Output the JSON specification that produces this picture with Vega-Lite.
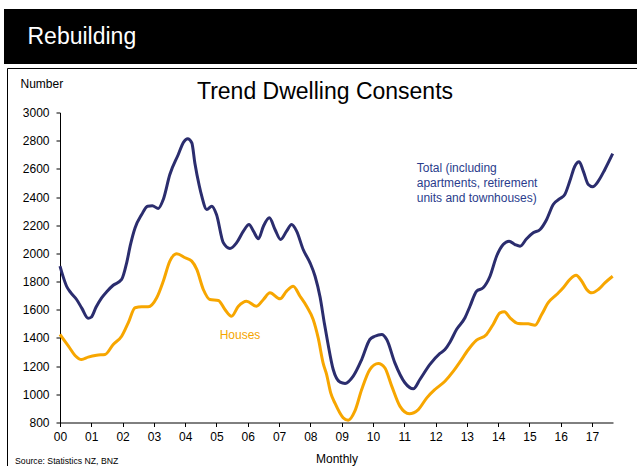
{
  "$schema": "https://vega.github.io/schema/vega-lite/v6.json",
  "width": 553,
  "height": 310,
  "autosize": {"type": "none"},
  "padding": {"left": 60, "top": 112.5, "right": 24, "bottom": 43.5},
  "background": "white",
  "config": {
    "view": {"stroke": null},
    "font": "Liberation Sans",
    "axis": {"grid": false, "domainColor": "black", "tickColor": "black", "tickSize": 4, "labelColor": "black", "labelFontSize": 12, "titleFontSize": 12, "titleFontWeight": "normal", "titleColor": "black", "labelFont": "Liberation Sans", "titleFont": "Liberation Sans", "labelOverlap": false, "labelFlush": false, "labelBound": false}
  },
  "resolve": {"axis": {"x": "independent", "y": "independent"}},
  "datasets": {
    "consents": [
      {"series":"Total","year":2000.00,"value":1910},{"series":"Total","year":2000.10,"value":1835},{"series":"Total","year":2000.21,"value":1767},{"series":"Total","year":2000.35,"value":1720},{"series":"Total","year":2000.53,"value":1673},{"series":"Total","year":2000.70,"value":1610},{"series":"Total","year":2000.90,"value":1540},{"series":"Total","year":2001.00,"value":1548},{"series":"Total","year":2001.15,"value":1618},{"series":"Total","year":2001.33,"value":1685},{"series":"Total","year":2001.50,"value":1730},{"series":"Total","year":2001.70,"value":1774},{"series":"Total","year":2001.97,"value":1815},{"series":"Total","year":2002.13,"value":1933},{"series":"Total","year":2002.25,"value":2060},{"series":"Total","year":2002.40,"value":2182},{"series":"Total","year":2002.61,"value":2276},{"series":"Total","year":2002.80,"value":2335},{"series":"Total","year":2002.95,"value":2338},{"series":"Total","year":2003.14,"value":2319},{"series":"Total","year":2003.30,"value":2383},{"series":"Total","year":2003.51,"value":2560},{"series":"Total","year":2003.78,"value":2702},{"series":"Total","year":2003.95,"value":2790},{"series":"Total","year":2004.08,"value":2813},{"series":"Total","year":2004.21,"value":2785},{"series":"Total","year":2004.31,"value":2640},{"series":"Total","year":2004.45,"value":2480},{"series":"Total","year":2004.53,"value":2406},{"series":"Total","year":2004.69,"value":2312},{"series":"Total","year":2004.85,"value":2335},{"series":"Total","year":2005.00,"value":2276},{"series":"Total","year":2005.22,"value":2075},{"series":"Total","year":2005.43,"value":2035},{"series":"Total","year":2005.64,"value":2075},{"series":"Total","year":2005.86,"value":2158},{"series":"Total","year":2006.04,"value":2205},{"series":"Total","year":2006.18,"value":2158},{"series":"Total","year":2006.34,"value":2104},{"series":"Total","year":2006.50,"value":2193},{"series":"Total","year":2006.69,"value":2253},{"series":"Total","year":2006.87,"value":2170},{"series":"Total","year":2007.05,"value":2099},{"series":"Total","year":2007.24,"value":2158},{"series":"Total","year":2007.40,"value":2205},{"series":"Total","year":2007.56,"value":2158},{"series":"Total","year":2007.77,"value":2028},{"series":"Total","year":2007.99,"value":1933},{"series":"Total","year":2008.15,"value":1838},{"series":"Total","year":2008.31,"value":1690},{"series":"Total","year":2008.45,"value":1500},{"series":"Total","year":2008.55,"value":1375},{"series":"Total","year":2008.73,"value":1176},{"series":"Total","year":2008.95,"value":1086},{"series":"Total","year":2009.11,"value":1077},{"series":"Total","year":2009.37,"value":1129},{"series":"Total","year":2009.64,"value":1247},{"series":"Total","year":2009.90,"value":1389},{"series":"Total","year":2010.06,"value":1412},{"series":"Total","year":2010.28,"value":1425},{"series":"Total","year":2010.44,"value":1389},{"series":"Total","year":2010.70,"value":1223},{"series":"Total","year":2011.02,"value":1082},{"series":"Total","year":2011.29,"value":1039},{"series":"Total","year":2011.50,"value":1105},{"series":"Total","year":2011.82,"value":1212},{"series":"Total","year":2012.14,"value":1290},{"series":"Total","year":2012.30,"value":1318},{"series":"Total","year":2012.46,"value":1370},{"series":"Total","year":2012.67,"value":1460},{"series":"Total","year":2012.94,"value":1543},{"series":"Total","year":2013.10,"value":1625},{"series":"Total","year":2013.31,"value":1732},{"series":"Total","year":2013.52,"value":1756},{"series":"Total","year":2013.74,"value":1838},{"series":"Total","year":2013.95,"value":1980},{"series":"Total","year":2014.16,"value":2063},{"series":"Total","year":2014.35,"value":2087},{"series":"Total","year":2014.54,"value":2063},{"series":"Total","year":2014.70,"value":2051},{"series":"Total","year":2014.91,"value":2104},{"series":"Total","year":2015.12,"value":2146},{"series":"Total","year":2015.34,"value":2170},{"series":"Total","year":2015.55,"value":2241},{"series":"Total","year":2015.76,"value":2347},{"series":"Total","year":2015.97,"value":2388},{"series":"Total","year":2016.13,"value":2418},{"series":"Total","year":2016.29,"value":2513},{"series":"Total","year":2016.45,"value":2619},{"series":"Total","year":2016.59,"value":2650},{"series":"Total","year":2016.72,"value":2584},{"series":"Total","year":2016.88,"value":2489},{"series":"Total","year":2017.02,"value":2473},{"series":"Total","year":2017.20,"value":2513},{"series":"Total","year":2017.41,"value":2596},{"series":"Total","year":2017.66,"value":2708},
      {"series":"Houses","year":2000.00,"value":1425},{"series":"Houses","year":2000.27,"value":1342},{"series":"Houses","year":2000.48,"value":1276},{"series":"Houses","year":2000.69,"value":1247},{"series":"Houses","year":2000.90,"value":1264},{"series":"Houses","year":2001.17,"value":1278},{"series":"Houses","year":2001.44,"value":1283},{"series":"Houses","year":2001.70,"value":1354},{"series":"Houses","year":2001.97,"value":1412},{"series":"Houses","year":2002.18,"value":1507},{"series":"Houses","year":2002.40,"value":1614},{"series":"Houses","year":2002.61,"value":1621},{"series":"Houses","year":2002.82,"value":1621},{"series":"Houses","year":2003.09,"value":1685},{"series":"Houses","year":2003.30,"value":1803},{"series":"Houses","year":2003.51,"value":1945},{"series":"Houses","year":2003.73,"value":1997},{"series":"Houses","year":2004.00,"value":1969},{"series":"Houses","year":2004.21,"value":1945},{"series":"Houses","year":2004.37,"value":1886},{"series":"Houses","year":2004.58,"value":1744},{"series":"Houses","year":2004.79,"value":1673},{"series":"Houses","year":2005.06,"value":1666},{"series":"Houses","year":2005.27,"value":1602},{"series":"Houses","year":2005.48,"value":1554},{"series":"Houses","year":2005.70,"value":1625},{"series":"Houses","year":2005.96,"value":1661},{"series":"Houses","year":2006.28,"value":1625},{"series":"Houses","year":2006.50,"value":1673},{"series":"Houses","year":2006.71,"value":1720},{"series":"Houses","year":2007.03,"value":1678},{"series":"Houses","year":2007.24,"value":1732},{"series":"Houses","year":2007.45,"value":1767},{"series":"Houses","year":2007.67,"value":1696},{"series":"Houses","year":2007.88,"value":1625},{"series":"Houses","year":2008.09,"value":1531},{"series":"Houses","year":2008.25,"value":1400},{"series":"Houses","year":2008.41,"value":1220},{"series":"Houses","year":2008.52,"value":1140},{"series":"Houses","year":2008.65,"value":1010},{"series":"Houses","year":2008.79,"value":935},{"series":"Houses","year":2009.05,"value":833},{"series":"Houses","year":2009.21,"value":816},{"series":"Houses","year":2009.42,"value":880},{"series":"Houses","year":2009.64,"value":1034},{"series":"Houses","year":2009.90,"value":1176},{"series":"Houses","year":2010.17,"value":1219},{"series":"Houses","year":2010.38,"value":1188},{"series":"Houses","year":2010.60,"value":1058},{"series":"Houses","year":2010.86,"value":916},{"series":"Houses","year":2011.16,"value":862},{"series":"Houses","year":2011.45,"value":892},{"series":"Houses","year":2011.72,"value":975},{"series":"Houses","year":2011.98,"value":1034},{"series":"Houses","year":2012.30,"value":1093},{"series":"Houses","year":2012.57,"value":1164},{"series":"Houses","year":2012.78,"value":1230},{"series":"Houses","year":2013.05,"value":1318},{"series":"Houses","year":2013.31,"value":1384},{"series":"Houses","year":2013.63,"value":1425},{"series":"Houses","year":2013.84,"value":1496},{"series":"Houses","year":2014.06,"value":1578},{"series":"Houses","year":2014.20,"value":1586},{"series":"Houses","year":2014.38,"value":1543},{"series":"Houses","year":2014.64,"value":1503},{"series":"Houses","year":2014.96,"value":1500},{"series":"Houses","year":2015.18,"value":1490},{"series":"Houses","year":2015.39,"value":1566},{"series":"Houses","year":2015.60,"value":1650},{"series":"Houses","year":2015.87,"value":1708},{"series":"Houses","year":2016.08,"value":1756},{"series":"Houses","year":2016.29,"value":1815},{"series":"Houses","year":2016.49,"value":1845},{"series":"Houses","year":2016.67,"value":1803},{"series":"Houses","year":2016.83,"value":1744},{"series":"Houses","year":2016.99,"value":1720},{"series":"Houses","year":2017.20,"value":1744},{"series":"Houses","year":2017.41,"value":1791},{"series":"Houses","year":2017.66,"value":1838}
    ]
  },
  "layer": [
    {
      "data": {"name": "consents"},
      "mark": {"type": "line", "interpolate": "monotone", "strokeWidth": 3, "clip": false},
      "encoding": {
        "x": {
          "field": "year", "type": "quantitative",
          "scale": {"domain": [2000, 2017.67], "nice": false, "zero": false},
          "axis": {
            "title": "Monthly",
            "values": [2000,2001,2002,2003,2004,2005,2006,2007,2008,2009,2010,2011,2012,2013,2014,2015,2016,2017],
            "labelExpr": "substring(toString(datum.value), 2, 4)",
            "labelPadding": 5,
            "labelOverlap": false,
            "titleY": 39.5,
            "titleBaseline": "alphabetic"
          }
        },
        "y": {
          "field": "value", "type": "quantitative",
          "scale": {"domain": [800, 3000], "nice": false, "zero": false},
          "axis": {
            "title": "Number",
            "values": [800,1000,1200,1400,1600,1800,2000,2200,2400,2600,2800,3000],
            "format": "d",
            "labelPadding": 7,
            "labelOverlap": false,
            "titleAngle": 0,
            "titleAlign": "left",
            "titleBaseline": "alphabetic",
            "titleX": -40,
            "titleY": -25
          }
        },
        "color": {
          "field": "series", "type": "nominal",
          "scale": {"domain": ["Total", "Houses"], "range": ["#2B2D6E", "#F7A600"]},
          "legend": null
        },
        "detail": {"field": "series"}
      }
    },
    {
      "data": {"values": [{}]},
      "mark": {"type": "rect", "color": "black", "clip": false},
      "encoding": {
        "x": {"datum": 1998.2106, "type": "quantitative", "axis": null},
        "x2": {"datum": 2018.5},
        "y": {"datum": 3734.5, "type": "quantitative", "axis": null},
        "y2": {"datum": 3344.2}
      }
    },
    {
      "data": {"values": [{}]},
      "mark": {"type": "text", "text": "Rebuilding", "color": "white", "fontSize": 23, "align": "left", "baseline": "alphabetic", "font": "Liberation Sans", "clip": false},
      "encoding": {
        "x": {"datum": 1998.9615, "type": "quantitative", "axis": null},
        "y": {"datum": 3486.1, "type": "quantitative", "axis": null}
      }
    },
    {
      "data": {"values": [{}]},
      "mark": {"type": "rule", "color": "black", "strokeWidth": 1, "clip": false},
      "encoding": {
        "x": {"datum": 1998.3225, "type": "quantitative", "axis": null},
        "y": {"datum": 3312.3, "type": "quantitative", "axis": null},
        "y2": {"datum": 462.9}
      }
    },
    {
      "data": {"values": [{}]},
      "mark": {"type": "rule", "color": "black", "strokeWidth": 1, "clip": false},
      "encoding": {
        "x": {"datum": 1998.3225, "type": "quantitative", "axis": null},
        "x2": {"datum": 2018.6},
        "y": {"datum": 3312.3, "type": "quantitative", "axis": null}
      }
    },
    {
      "data": {"values": [{}]},
      "mark": {"type": "text", "text": "Trend Dwelling Consents", "color": "black", "fontSize": 23, "align": "center", "baseline": "alphabetic", "font": "Liberation Sans", "clip": false},
      "encoding": {
        "x": {"datum": 2008.4676, "type": "quantitative", "axis": null},
        "y": {"datum": 3095.8, "type": "quantitative", "axis": null}
      }
    },
    {
      "data": {"values": [{}]},
      "mark": {"type": "text", "text": "Source: Statistics NZ, BNZ", "color": "black", "fontSize": 8.7, "align": "left", "baseline": "alphabetic", "font": "Liberation Sans", "clip": false},
      "encoding": {
        "x": {"datum": 1998.5621, "type": "quantitative", "axis": null},
        "y": {"datum": 505.5, "type": "quantitative", "axis": null}
      }
    },
    {
      "data": {"values": [{}]},
      "mark": {"type": "text", "text": "Houses", "color": "#F5A500", "fontSize": 12, "align": "center", "baseline": "middle", "font": "Liberation Sans"},
      "encoding": {
        "x": {"datum": 2005.7515, "type": "quantitative", "axis": null},
        "y": {"datum": 1421, "type": "quantitative", "axis": null}
      }
    },
    {
      "data": {"values": [{}]},
      "mark": {"type": "text", "text": ["Total (including", "apartments, retirement", "units and townhouses)"], "lineHeight": 15, "color": "#2A3C8C", "fontSize": 12, "align": "left", "baseline": "middle", "font": "Liberation Sans"},
      "encoding": {
        "x": {"datum": 2011.398, "type": "quantitative", "axis": null},
        "y": {"datum": 2604, "type": "quantitative", "axis": null}
      }
    }
  ]
}
